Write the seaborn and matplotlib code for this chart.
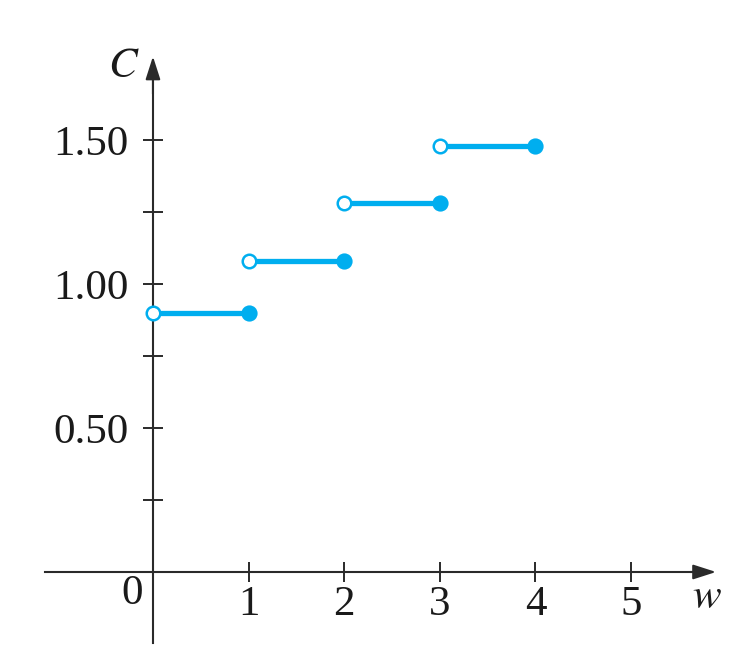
import matplotlib
matplotlib.use("Agg")
import matplotlib.pyplot as plt
import seaborn as sns
import pandas as pd

# Data: postage cost step function
w_start = [0, 1, 2, 3]
w_end = [1, 2, 3, 4]
cost = [0.90, 1.08, 1.28, 1.48]
x_ticks = [1, 2, 3, 4, 5]
x_tick_labels = ["1", "2", "3", "4", "5"]
y_ticks = [0.25, 0.50, 0.75, 1.00, 1.25, 1.50]
y_tick_labels = ["", "0.50", "", "1.00", "", "1.50"]

sns.set_style("white")
plt.rcParams['font.family'] = ['Liberation Serif', 'DejaVu Serif']
plt.rcParams['mathtext.fontset'] = 'stix'

blue = "#00AEEF"
axc = "#2a2a2a"

rows = []
for i, (a, b, c) in enumerate(zip(w_start, w_end, cost)):
    rows.append({"w": a, "C": c, "seg": i})
    rows.append({"w": b, "C": c, "seg": i})
df = pd.DataFrame(rows)
open_df = pd.DataFrame({"w": w_start, "C": cost})
closed_df = pd.DataFrame({"w": w_end, "C": cost})

fig = plt.figure(figsize=(7.35, 6.63), dpi=100)
ax = fig.add_axes([0, 0, 1, 1])
ax.set_xlim(-1.60, 6.088)
ax.set_ylim(-0.316, 1.986)

sns.lineplot(data=df, x="w", y="C", units="seg", estimator=None, color=blue,
             lw=3.8, ax=ax, legend=False, zorder=3, solid_capstyle="butt")
sns.scatterplot(data=closed_df, x="w", y="C", color=blue, s=110, edgecolor=blue,
                linewidth=1.2, ax=ax, zorder=4, legend=False, clip_on=False)
sns.scatterplot(data=open_df, x="w", y="C", color="white", s=95, edgecolor=blue,
                linewidth=1.8, ax=ax, zorder=5, legend=False, clip_on=False)

for s in ["top", "right"]:
    ax.spines[s].set_visible(False)
for s in ["left", "bottom"]:
    ax.spines[s].set_position(("data", 0))
    ax.spines[s].set_color(axc)
    ax.spines[s].set_linewidth(1.5)
ax.spines["left"].set_bounds(-0.247, 1.72)
ax.spines["bottom"].set_bounds(-1.13, 5.70)

ax.annotate("", xy=(0, 1.79), xytext=(0, 1.66),
            arrowprops=dict(arrowstyle="-|>,head_length=1.4,head_width=0.45",
                            color=axc, lw=1.5, shrinkA=0, shrinkB=0))
ax.annotate("", xy=(5.89, 0), xytext=(5.62, 0),
            arrowprops=dict(arrowstyle="-|>,head_length=1.4,head_width=0.45",
                            color=axc, lw=1.5, shrinkA=0, shrinkB=0))

ax.set_xticks(x_ticks)
ax.set_xticklabels(x_tick_labels)
ax.set_yticks(y_ticks)
ax.set_yticklabels(y_tick_labels)
ax.tick_params(axis="both", direction="inout", length=15, width=1.4,
               color=axc, labelsize=31, labelcolor="#1a1a1a",
               bottom=True, left=True)
ax.tick_params(axis="x", pad=2)
ax.tick_params(axis="y", pad=10)
ax.set_xlabel("")
ax.set_ylabel("")

ax.text(-0.22, -0.075, "0", fontsize=31, ha="center", va="center", color="#1a1a1a")
ax.text(5.79, -0.09, "$w$", fontsize=31, ha="center", va="center", color="#1a1a1a")
ax.text(-0.31, 1.755, "$C$", fontsize=31, ha="center", va="center", color="#1a1a1a")

fig.savefig("out.png", dpi=100)
